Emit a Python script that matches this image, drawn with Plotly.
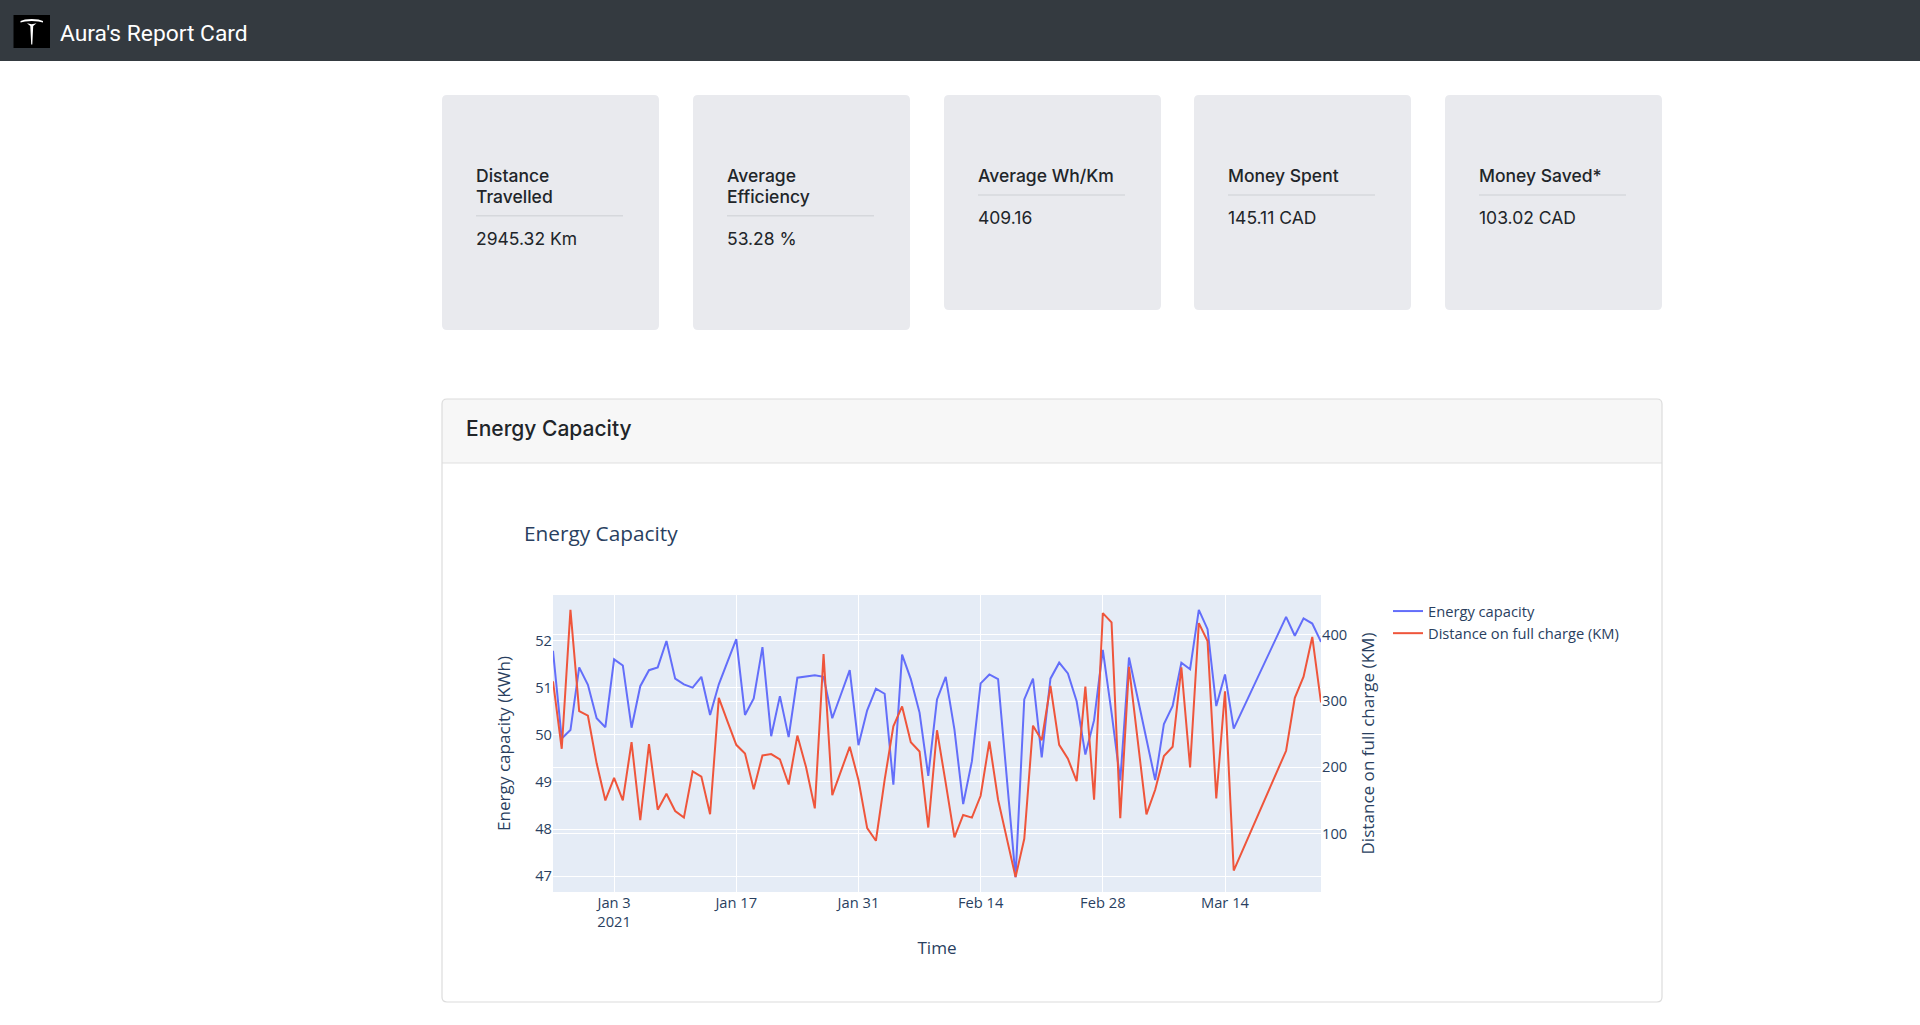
import pandas as pd
import plotly.graph_objects as go
from plotly.subplots import make_subplots

# daily readings (no data between Mar 16 and Mar 20)
dates = list(pd.date_range("2020-12-27", "2021-03-15")) + list(pd.date_range("2021-03-21", "2021-03-25"))

energy_capacity = [
    51.78, 49.92, 50.10, 51.43, 51.06,
    50.35, 50.16, 51.60, 51.47, 50.15, 51.03, 51.37, 51.43, 51.99, 51.19,
    51.07, 51.00, 51.23, 50.42, 51.07, 51.55, 52.03, 50.42, 50.77, 51.86,
    49.97, 50.82, 49.95, 51.21, 51.23, 51.26, 51.23, 50.35, 50.86, 51.37, 49.78,
    50.52, 50.98, 50.87, 48.94, 51.70, 51.18, 50.47, 49.13, 50.75, 51.23,
    50.11, 48.53, 49.44, 51.09, 51.28, 51.18, 49.10, 46.98, 50.75, 51.19,
    49.52, 51.19, 51.53, 51.30, 50.71, 49.58, 50.31, 51.80,
    50.47, 49.03, 51.64, 50.77, 49.91, 49.04, 50.23, 50.61, 51.53, 51.39,
    52.65, 52.24, 50.61, 51.28, 50.13,
    52.50, 52.10, 52.47, 52.36, 51.97,
]

full_charge_km = [
    330, 228, 438, 285, 278,
    206, 150, 184, 150, 238, 120, 235, 136, 160, 134,
    124, 194, 186, 129, 305, 269, 234, 221, 167, 218,
    220, 212, 174, 248, 200, 138, 371, 158, 194, 231, 181,
    108, 89, 181, 262, 292, 238, 224, 109, 256, 176,
    94, 128, 124, 157, 239, 151, 92, 34, 92, 263,
    241, 323, 234, 213, 179, 322, 151, 433,
    419, 123, 352, 241, 129, 166, 217, 231, 351, 200,
    418, 391, 153, 315, 44,
    225, 305, 337, 397, 298,
]

card_titles = ["Distance<br>Travelled", "Average<br>Efficiency", "Average Wh/Km", "Money Spent", "Money Saved*"]
card_values = ["2945.32 Km", "53.28 %", "409.16", "145.11 CAD", "103.02 CAD"]

W, H = 1920, 1025
L, R, T, B = 553, 1321, 595, 892   # plot area in pixels


# pixel -> paper coordinates
def fx(p):
    return (p - L) / (R - L)


def fy(p):
    return (B - p) / (B - T)


def rrect(x0, y0, x1, y1, r):
    pts = [
        ("M", x0 + r, y0), ("L", x1 - r, y0), ("Q", x1, y0, x1, y0 + r),
        ("L", x1, y1 - r), ("Q", x1, y1, x1 - r, y1), ("L", x0 + r, y1),
        ("Q", x0, y1, x0, y1 - r), ("L", x0, y0 + r), ("Q", x0, y0, x0 + r, y0),
    ]
    s = ""
    for p in pts:
        vals = p[1:]
        coords = []
        for i in range(0, len(vals), 2):
            coords.append("%.5f,%.5f" % (fx(vals[i]), fy(vals[i + 1])))
        s += p[0] + " " + " ".join(coords) + " "
    return s + "Z"


def poly(points):
    return "M " + " L ".join("%.5f,%.5f" % (fx(x), fy(y)) for x, y in points) + " Z"


fig = make_subplots(specs=[[{"secondary_y": True}]])
fig.add_trace(go.Scatter(x=dates, y=energy_capacity, mode="lines", name="Energy capacity"),
              secondary_y=False)
fig.add_trace(go.Scatter(x=dates, y=full_charge_km, mode="lines", name="Distance on full charge (KM)"),
              secondary_y=True)

shapes = []
annotations = []

# top navbar
shapes.append(dict(type="rect", xref="paper", yref="paper", x0=fx(0), x1=fx(W), y0=fy(0), y1=fy(61),
                   fillcolor="#343a40", line_width=0, layer="below"))
shapes.append(dict(type="rect", xref="paper", yref="paper", x0=fx(13.5), x1=fx(50), y0=fy(15), y1=fy(48),
                   fillcolor="#000000", line_width=0, layer="below"))
# tesla-ish logo
shapes.append(dict(type="path", xref="paper", yref="paper", layer="below", line_width=0, fillcolor="#ffffff",
                   path=poly([(20.5, 21), (25, 19.6), (31.75, 19), (38.5, 19.6), (43, 21),
                              (43, 22.6), (38.5, 21.4), (31.75, 21), (25, 21.4), (20.5, 22.6)])))
shapes.append(dict(type="path", xref="paper", yref="paper", layer="below", line_width=0, fillcolor="#ffffff",
                   path=poly([(27, 23.2), (31.75, 24.2), (36.5, 23.2), (33.2, 26), (32.3, 44.5),
                              (31.2, 44.5), (30.3, 26)])))
annotations.append(dict(text="Aura's Report Card", x=fx(57.5), y=fy(33), xref="paper", yref="paper",
                        xanchor="left", yanchor="middle", showarrow=False,
                        font=dict(family="Roboto", size=22.8, color="#ffffff")))

# stat cards
card_x = [442, 693, 944, 1194, 1445]
for i in range(len(card_titles)):
    x0 = card_x[i]
    lines = card_titles[i].split("<br>")
    bottom = 330 if len(lines) > 1 else 310
    shapes.append(dict(type="path", xref="paper", yref="paper", layer="below", line_width=0,
                       fillcolor="#e9eaee", path=rrect(x0, 95, x0 + 217, bottom, 5)))
    tx = x0 + 32
    for j, ln in enumerate(lines):
        annotations.append(dict(text=ln, x=fx(tx), y=fy(175.5 + 20.7 * j), xref="paper", yref="paper",
                                xanchor="left", yanchor="middle", showarrow=False,
                                font=dict(family="Inter", size=17.5, color="#212529", weight=500)))
    hr = 195 + 20.7 * (len(lines) - 1)
    shapes.append(dict(type="line", xref="paper", yref="paper", layer="below",
                       x0=fx(tx + 2), x1=fx(tx + 149), y0=fy(hr), y1=fy(hr),
                       line=dict(color="#d6d8dc", width=1.5)))
    annotations.append(dict(text=card_values[i], x=fx(tx), y=fy(hr + 23), xref="paper", yref="paper",
                            xanchor="left", yanchor="middle", showarrow=False,
                            font=dict(family="Inter", size=17.5, color="#212529")))

# chart card
shapes.append(dict(type="path", xref="paper", yref="paper", layer="below", line_width=0,
                   fillcolor="#f7f7f7", path=rrect(442, 399, 1662, 470, 5)))
shapes.append(dict(type="rect", xref="paper", yref="paper", layer="below", line_width=0,
                   fillcolor="#ffffff", x0=fx(441), x1=fx(1663), y0=fy(463), y1=fy(475)))
shapes.append(dict(type="line", xref="paper", yref="paper", layer="below",
                   x0=fx(442), x1=fx(1662), y0=fy(463), y1=fy(463),
                   line=dict(color="#dfdfdf", width=1.2)))
shapes.append(dict(type="path", xref="paper", yref="paper", layer="below", fillcolor="rgba(0,0,0,0)",
                   line=dict(color="#dcdcdc", width=1.2), path=rrect(442, 399, 1662, 1002, 5)))
annotations.append(dict(text="Energy Capacity", x=fx(463.5), y=fy(428), xref="paper", yref="paper",
                        xanchor="left", yanchor="middle", showarrow=False,
                        font=dict(family="Inter", size=21, color="#212529", weight=500)))

fig.update_layout(
    width=W, height=H, autosize=False,
    margin=dict(l=L, r=W - R, t=T, b=H - B, pad=0),
    paper_bgcolor="#ffffff",
    font=dict(size=14.7),
    title=dict(text="Energy Capacity", xref="container", yref="container",
               x=524 / W, y=1 - 534 / H, xanchor="left", yanchor="middle",
               font=dict(size=20.8)),
    legend=dict(x=fx(1388), y=1, xanchor="left", yanchor="top", font=dict(size=14.7)),
    shapes=shapes,
    annotations=annotations,
    showlegend=True,
)
fig.update_xaxes(domain=[0, 1], title=dict(text="Time", font=dict(size=17.1), standoff=12),
                 tickfont=dict(size=14.7))
fig.update_yaxes(title=dict(text="Energy capacity (KWh)", font=dict(size=17.1), standoff=20),
                 tickfont=dict(size=14.7), secondary_y=False)
fig.update_yaxes(title=dict(text="Distance on full charge (KM)", font=dict(size=17.1)),
                 tickfont=dict(size=14.7), secondary_y=True)

# page has no body margin in the reference
fig.write_html("out.html", config={"displayModeBar": False},
               post_script="document.body.style.margin = '0';")
